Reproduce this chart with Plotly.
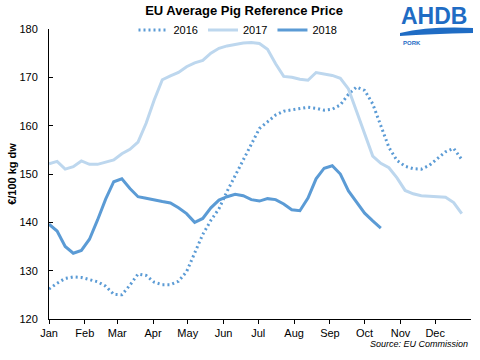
import plotly.graph_objects as go

weeks16 = list(range(52))
weeks17 = list(range(52))
weeks18 = list(range(42))

price_2016 = [126.2, 127.4, 128.4, 128.7, 128.6, 128.1, 127.7, 126.8, 125.1, 125.0,
              127.0, 129.3, 129.0, 127.6, 127.1, 127.1, 127.8, 129.8, 133.6, 137.5,
              140.4, 142.8, 146.4, 149.6, 152.8, 156.0, 159.4, 160.8, 162.2, 163.0,
              163.3, 163.6, 163.8, 163.6, 163.2, 163.4, 164.3, 166.5, 168.0, 167.3,
              164.5, 160.0, 155.5, 152.8, 151.6, 151.1, 151.0, 151.8, 153.2, 154.6,
              155.3, 153.0]
price_2017 = [152.1, 152.6, 151.0, 151.5, 152.7, 152.0, 152.0, 152.5, 152.9, 154.2,
              155.1, 156.6, 160.5, 165.3, 169.5, 170.3, 171.0, 172.2, 173.0, 173.5,
              175.0, 176.0, 176.5, 176.8, 177.1, 177.2, 177.0, 175.8, 172.8, 170.2,
              170.0, 169.6, 169.4, 171.0, 170.7, 170.4, 169.8, 167.6, 163.0, 158.4,
              153.7, 152.2, 151.3, 149.2, 146.6, 145.9, 145.5, 145.4, 145.3, 145.2,
              144.1, 141.8]
price_2018 = [139.6, 138.2, 135.0, 133.6, 134.2, 136.5, 140.5, 144.8, 148.4, 149.0,
              147.0, 145.3, 145.0, 144.6, 144.3, 144.0, 143.0, 141.8, 140.0, 140.8,
              143.0, 144.6, 145.3, 145.8, 145.5, 144.7, 144.4, 144.9, 144.7, 143.8,
              142.6, 142.4, 145.0, 149.0, 151.2, 151.7, 150.0, 146.5, 144.1, 141.9,
              140.3, 138.8]

month_days = [0, 31, 59, 90, 120, 151, 181, 212, 243, 273, 304, 334]
month_labels = ["Jan", "Feb", "Mar", "Apr", "May", "Jun", "Jul", "Aug", "Sep", "Oct", "Nov", "Dec"]

def days(ws):
    return [7 * w for w in ws]

FONT = "Arial, Liberation Sans, sans-serif"
L, R, T, B = 49, 471, 29, 319
PW, PH = R - L, B - T

def px(x):
    return (x - L) / PW

def py(y):
    return (B - y) / PH

fig = go.Figure()
fig.add_trace(go.Scatter(x=days(weeks16), y=price_2016, name="2016", mode="lines",
                         line=dict(color="#5b9bd5", width=3, dash="2px,3px")))
fig.add_trace(go.Scatter(x=days(weeks17), y=price_2017, name="2017", mode="lines",
                         line=dict(color="#bdd7ee", width=3)))
fig.add_trace(go.Scatter(x=days(weeks18), y=price_2018, name="2018", mode="lines",
                         line=dict(color="#5b9bd5", width=3)))

fig.update_layout(
    width=480, height=360,
    margin=dict(l=L, r=480 - R, t=T, b=360 - B, autoexpand=False),
    paper_bgcolor="white", plot_bgcolor="white",
    font=dict(family=FONT, size=11, color="black"),
    title=dict(text="<b>EU Average Pig Reference Price</b>", x=px(244), xanchor="center",
               xref="paper", y=1 - 10 / 360, yanchor="middle", font=dict(size=13, color="black")),
    showlegend=True,
    legend=dict(orientation="h", x=px(238), xanchor="center", y=py(30), yanchor="middle",
                font=dict(size=11), itemwidth=30, tracegroupgap=0,
                bgcolor="rgba(0,0,0,0)"),
)
fig.update_xaxes(range=[0, 365], tickmode="array", tickvals=month_days, ticktext=month_labels,
                 showline=True, linecolor="black", linewidth=1, ticks="outside", ticklen=4,
                 tickcolor="black", showgrid=False, zeroline=False, automargin=False,
                 tickfont=dict(size=11))
fig.update_yaxes(range=[120, 180], dtick=10, showline=True, linecolor="black", linewidth=1,
                 ticks="inside", ticklen=4, tickcolor="black", showgrid=False, zeroline=False,
                 tickfont=dict(size=11), ticklabelstandoff=8, automargin=False,
                 title=dict(text="<b>€/100 kg dw</b>", font=dict(size=11), standoff=0))

fig.add_annotation(text="<i>Source: EU Commission</i>", xref="paper", yref="paper",
                   x=px(470), y=py(344), xanchor="right", yanchor="middle", showarrow=False,
                   font=dict(size=9, color="black"))

# AHDB logo
fig.add_annotation(text="<b>AHDB</b>", xref="paper", yref="paper", x=px(469),
                   y=py(16), xanchor="right", yanchor="middle", showarrow=False,
                   font=dict(size=23, color="#1f6cc4", family=FONT))
fig.add_annotation(text="<b>PORK</b>", xref="paper", yref="paper", x=px(401),
                   y=py(43), xanchor="left", yanchor="middle", showarrow=False,
                   font=dict(size=6, color="#1f6cc4", family=FONT))
fig.add_shape(type="path", xref="paper", yref="paper",
              path="M %f %f Q %f %f %f %f L %f %f Q %f %f %f %f Z" % (
                  px(400), py(33),
                  px(430), py(26), px(473), py(28),
                  px(473), py(33),
                  px(430), py(34), px(400), py(36)),
              fillcolor="#1f6cc4", line=dict(width=0))

fig.write_html("out.html", config={"displayModeBar": False},
               post_script="document.body.style.margin='0';document.body.style.overflow='hidden';")
